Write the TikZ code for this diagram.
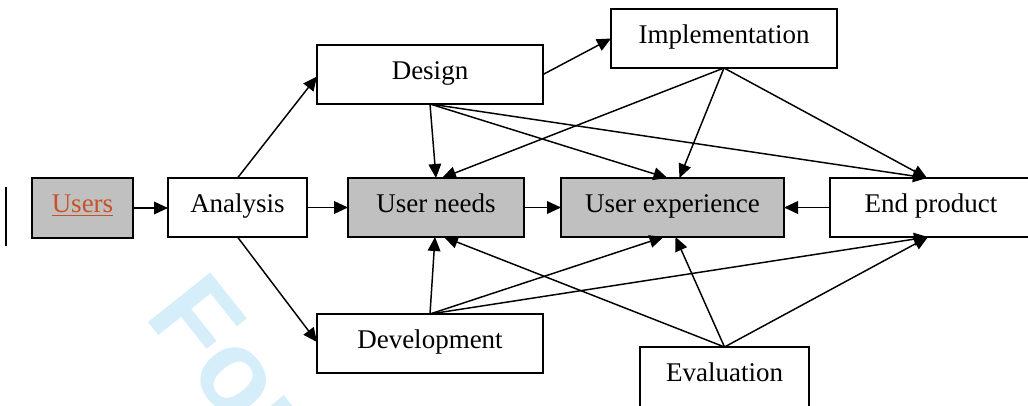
\documentclass[tikz,border=0pt]{standalone}
\usepackage{fontspec}
\setmainfont{Liberation Serif}
\newfontfamily\wmfont{Liberation Sans}
\usetikzlibrary{arrows.meta,calc}
\definecolor{boxgray}{RGB}{192,192,192}
\definecolor{linkred}{RGB}{200,82,40}
\definecolor{wmblue}{RGB}{214,238,249}

\begin{document}
\begin{tikzpicture}[x=0.75pt,y=-0.75pt,
  box/.style={draw=black, line width=1.3pt, rectangle, inner sep=0pt, outer sep=0pt,
    minimum height=44.25pt, font=\fontsize{20.25}{24}\selectfont,
    text height=15pt, text depth=8pt},
  shaded/.style={box, fill=boxgray},
  link/.style={line width=1.1pt, -{Triangle[length=10.5pt,width=9.5pt]}},
  marginbar/.style={line width=1.6pt},
  stamptext/.style={anchor=base west, inner sep=0pt, outer sep=0pt, rotate=-51.5,
    text=wmblue, font=\wmfont\bfseries\fontsize{87}{90}\selectfont}
]
\useasboundingbox (0,0) rectangle (1028,406);

% background stamp
\begin{scope}
  \clip (0,0) rectangle (1028,406);
  \node[stamptext] (stamp) at (143,316.5) {For};
\end{scope}

% margin bar
\draw[marginbar] (6,187) -- (6,246);

% boxes
\node[shaded, minimum width=75.75pt, minimum height=45pt] (users) at (82.5,208)
  {\textcolor{linkred}{\underline{Users}}};
\node[box, minimum width=104.25pt] (analysis) at (237.5,207.5) {Analysis};
\node[shaded, minimum width=132pt] (needs) at (436,207.5) {User needs};
\node[shaded, minimum width=167.25pt] (uxp) at (672.5,207.5) {User experience};
\node[box, minimum width=151.5pt] (endp) at (931,207.5) {End product};
\node[box, minimum width=169.5pt] (design) at (430,74.5) {Design};
\node[box, minimum width=169.5pt] (impl) at (724,38.5) {Implementation};
\node[box, minimum width=169.5pt] (devel) at (430,343.5) {Development};
\node[box, minimum width=126.75pt, minimum height=45pt] (eval) at (724.5,377) {Evaluation};

% main chain
\draw[link] (users.east) -- (users.east -| analysis.west);
\draw[link] (analysis.east) -- (needs.west);
\draw[link] (needs.east) -- (uxp.west);
\draw[link] (endp.west) -- (uxp.east);

% branches from analysis
\draw[link] (analysis.north) -- ($(design.west)+(0,2)$);
\draw[link] (analysis.south) -- ($(devel.west)+(0,-1.5)$);
\draw[link] (design.east) -- (impl.west);

% design fan
\draw[link] (design.south) -- (needs.north);
\draw[link] (design.south) -- ($(uxp.north)+(-5,0)$);
\draw[link] (design.south) -- ($(endp.north)+(-4,0)$);

% implementation fan
\draw[link] (impl.south) -- ($(needs.north)+(6,0)$);
\draw[link] (impl.south) -- ($(uxp.north)+(7,0)$);
\draw[link] (impl.south) -- ($(endp.north)+(-4,0)$);

% development fan
\draw[link] (devel.north) -- ($(needs.south)+(-1,0)$);
\draw[link] (devel.north) -- ($(uxp.south)+(-9,0)$);
\draw[link] (devel.north) -- ($(endp.south)+(-3,0)$);

% evaluation fan
\draw[link] (eval.north) -- ($(needs.south)+(8,0)$);
\draw[link] (eval.north) -- ($(uxp.south)+(3,0)$);
\draw[link] (eval.north) -- ($(endp.south)+(-3,0)$);
\end{tikzpicture}
\end{document}
